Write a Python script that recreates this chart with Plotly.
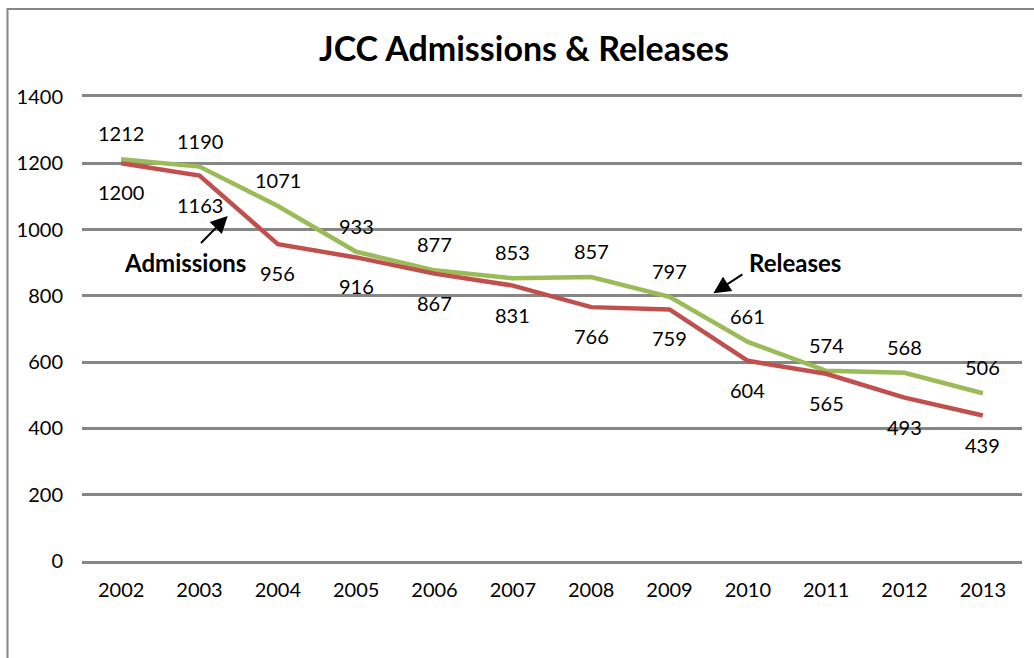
import plotly.graph_objects as go

# Annual figures
years = ["2002", "2003", "2004", "2005", "2006", "2007",
         "2008", "2009", "2010", "2011", "2012", "2013"]
releases = [1212, 1190, 1071, 933, 877, 853, 857, 797, 661, 574, 568, 506]
admissions = [1200, 1163, 956, 916, 867, 831, 766, 759, 604, 565, 493, 439]

GREEN = "#9BBB59"
RED = "#C0504D"
GRID = "#868686"
FONT = "Lato"
TXT = 20

fig = go.Figure()
fig.add_trace(go.Scatter(x=years, y=releases, mode="lines", name="Releases",
                         line=dict(color=GREEN, width=4.5)))
fig.add_trace(go.Scatter(x=years, y=admissions, mode="lines", name="Admissions",
                         line=dict(color=RED, width=4.5)))

annotations = []
# value labels: releases above the line, admissions below
for i, v in enumerate(releases):
    annotations.append(dict(x=i, y=v, xref="x", yref="y", text=str(v),
                            showarrow=False, yshift=26, xanchor="center",
                            yanchor="middle",
                            font=dict(family=FONT, size=TXT, color="#000")))
for i, v in enumerate(admissions):
    annotations.append(dict(x=i, y=v, xref="x", yref="y", text=str(v),
                            showarrow=False, yshift=-29, xanchor="center",
                            yanchor="middle",
                            font=dict(family=FONT, size=TXT, color="#000")))

# series callouts with arrows
annotations += [
    dict(x=1.36, y=1041, xref="x", yref="y", ax=1.0, ay=955, axref="x", ayref="y",
         text="", showarrow=True, arrowhead=2, arrowsize=1.7, arrowwidth=2,
         arrowcolor="#000"),
    dict(x=0.81, y=900, xref="x", yref="y", text="<b>Admissions</b>",
         showarrow=False, font=dict(family=FONT, size=24, color="#000")),
    dict(x=7.56, y=808, xref="x", yref="y", ax=7.95, ay=868, axref="x", ayref="y",
         text="", showarrow=True, arrowhead=2, arrowsize=1.7, arrowwidth=2,
         arrowcolor="#000"),
    dict(x=8.6, y=900, xref="x", yref="y", text="<b>Releases</b>",
         showarrow=False, font=dict(family=FONT, size=24, color="#000")),
]

fig.update_layout(
    width=1034, height=658,
    margin=dict(l=82, r=12, t=97, b=97),
    paper_bgcolor="white", plot_bgcolor="white",
    showlegend=False,
    title=dict(text="<b>JCC Admissions & Releases</b>", x=524 / 1034,
               xanchor="center", y=1 - 49 / 658, yanchor="middle",
               font=dict(family=FONT, size=34, color="#000")),
    font=dict(family=FONT, size=TXT, color="#000"),
    annotations=annotations,
    shapes=[dict(type="rect", xref="paper", yref="paper",
                 x0=(7.5 - 82) / 940, x1=1.2, y0=-0.5, y1=1 + (97 - 9) / 464,
                 line=dict(color=GRID, width=2), layer="below")],
)
# the x axis line (mirrored) supplies the 0 and 1400 grid lines at the edges
fig.update_xaxes(type="category", range=[-0.5, 11.5], showgrid=False,
                 showline=True, linecolor=GRID, linewidth=2.5, mirror=True,
                 zeroline=False, ticks="",
                 ticklabelstandoff=9, tickfont=dict(family=FONT, size=TXT))
fig.update_yaxes(range=[0, 1400], dtick=200, showgrid=True, gridcolor=GRID,
                 gridwidth=2.5, zeroline=False, showline=False, ticks="",
                 ticklabelstandoff=18, tickfont=dict(family=FONT, size=TXT))

fig.write_html("out.html")
